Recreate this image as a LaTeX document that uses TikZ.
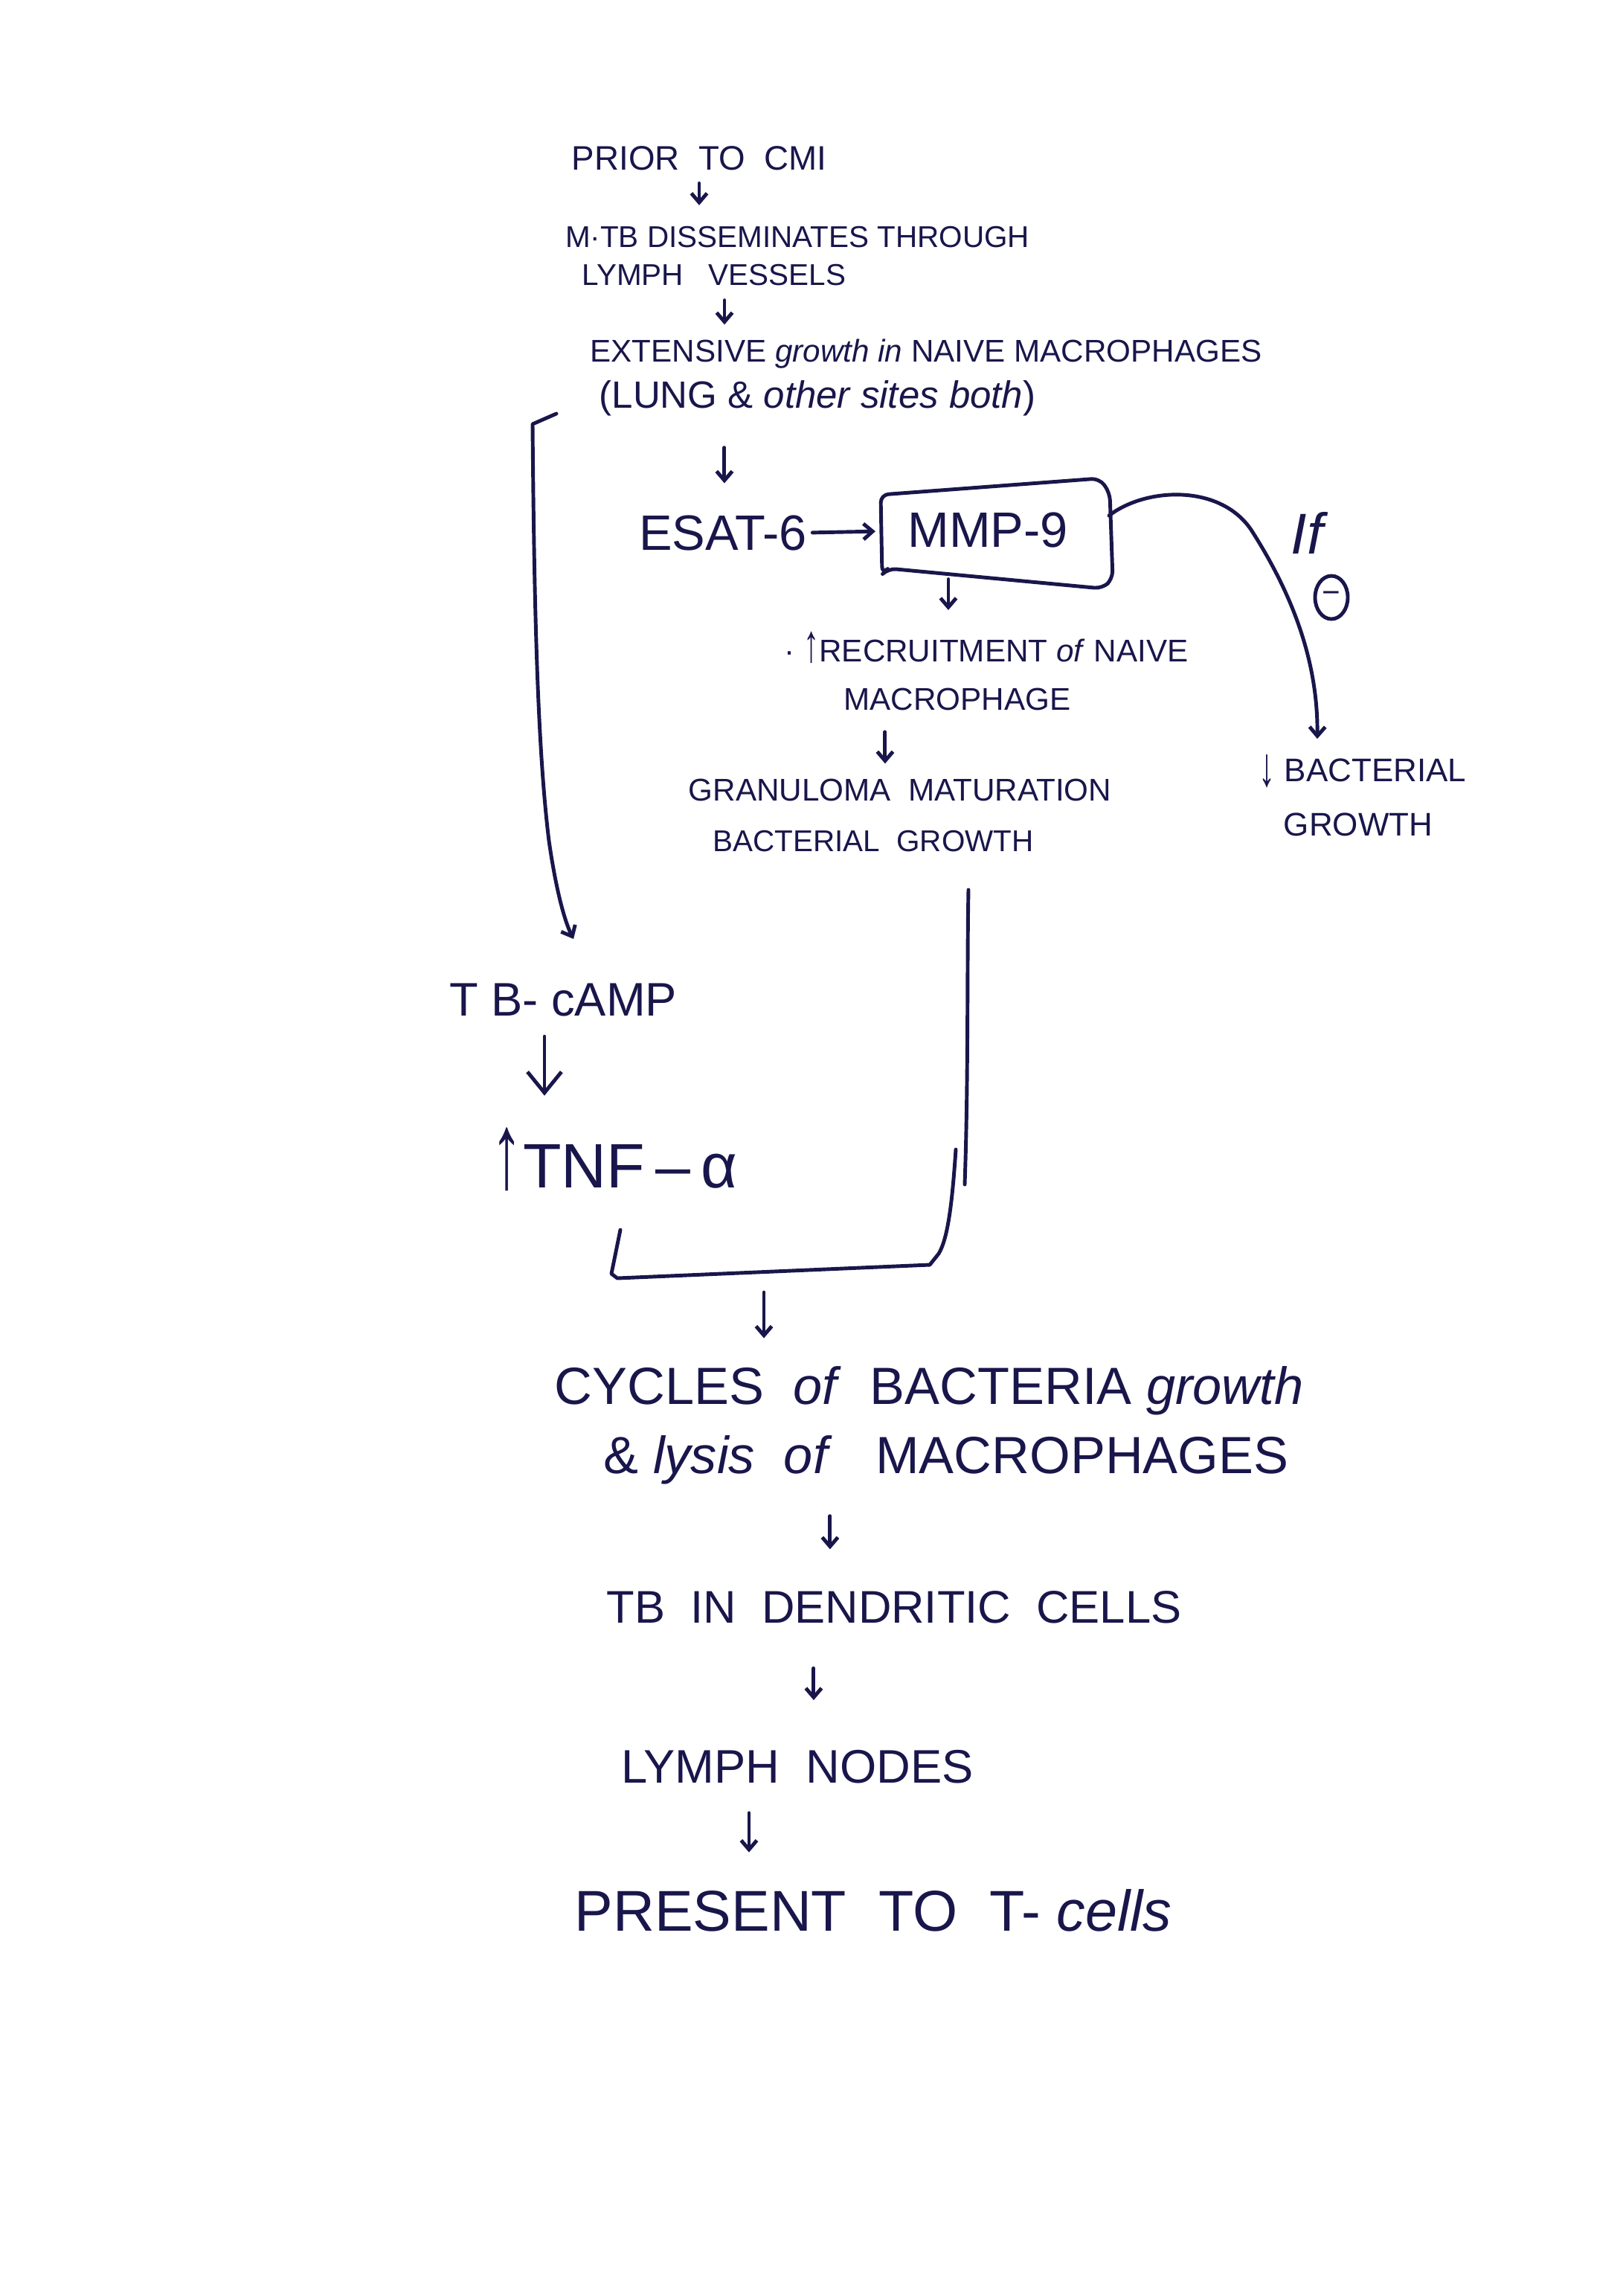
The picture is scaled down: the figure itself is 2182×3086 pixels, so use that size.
\documentclass[tikz,border=0pt]{standalone}
\usepackage{fontspec}
\setmainfont{Liberation Sans}
\usetikzlibrary{arrows.meta,calc,shapes.geometric}
\definecolor{ink}{RGB}{25,22,75}
\newcommand{\tallup}{\scalebox{1}[1.7]{↑}}
\newcommand{\talldown}{\raisebox{-0.15em}{\scalebox{1}[1.7]{↓}}}
\begin{document}
\begin{tikzpicture}[x=0.01cm,y=-0.01cm,
  inkline/.style={draw=ink, line width=1.4pt, line cap=round, line join=round},
  arr/.style={inkline, -{Straight Barb[length=3.5pt,width=6pt]}},
  lbl/.style={text=ink, inner sep=0pt, anchor=center},
  fs/.style={font=\fontsize{#1}{#1}\selectfont}]
\fill[white] (0,0) rectangle (2182,3086);
\useasboundingbox (0,0) rectangle (2182,3086);

% text nodes
\node[lbl,fs=13] (prior) at (940,213) {PRIOR\ \ TO\ \ CMI};
\node[lbl,fs=11.5] (mtb) at (1072,319) {M·TB DISSEMINATES THROUGH};
\node[lbl,fs=11.5] (lymph) at (960,370) {LYMPH\ \ \ VESSELS};
\node[lbl,fs=12] (ext) at (1245,476) {EXTENSIVE \textit{growth in} NAIVE MACROPHAGES};
\node[lbl,fs=14.5] (lung) at (1099,535) {(LUNG \& \textit{other sites both})};
\node[lbl,fs=19] (esat) at (972,716) {ESAT-6};
\node[lbl,fs=19] (mmp) at (1328,712) {MMP-9};
\node[lbl,fs=12] (recruit) at (1326,870) {· \tallup RECRUITMENT \textit{of} NAIVE};
\node[lbl,fs=12] (macro) at (1287,940) {MACROPHAGE};
\node[lbl,fs=12] (gran) at (1210,1062) {GRANULOMA\ \ MATURATION};
\node[lbl,fs=11.5] (bact) at (1174,1131) {BACTERIAL\ \ GROWTH};
\node[lbl,font=\fontsize{22}{22}\selectfont\itshape] (if) at (1757,716) {If};
\node[draw=ink, line width=1.4pt, ellipse, minimum width=0.44cm, minimum height=0.58cm, inner sep=0pt, text=ink] (neg) at (1790,803) {\fontsize{12}{12}\selectfont −};
\node[lbl,fs=12.5] (dbact) at (1832,1037) {\talldown\ BACTERIAL};
\node[lbl,fs=12.5] (dgrowth) at (1826,1108) {GROWTH};
\node[lbl,fs=18] (tbcamp) at (757,1344) {T B- cAMP};
\node[lbl,fs=24] (tnf) at (826,1558) {\tallup TNF\,–\,α};
\node[lbl,fs=20] (cycles) at (1249,1869) {CYCLES\ \ \textit{of}\ \ BACTERIA \textit{growth}};
\node[lbl,fs=20] (lysis) at (1272,1962) {\& \textit{lysis}\ \ \textit{of}\ \ \ MACROPHAGES};
\node[lbl,fs=17.5] (tbdc) at (1202,2160) {TB\ \ IN\ \ DENDRITIC\ \ CELLS};
\node[lbl,fs=18] (lnodes) at (1072,2375) {LYMPH\ \ NODES};
\node[lbl,fs=22] (present) at (1174,2568) {PRESENT\ \ TO\ \ T- \textit{cells}};

% MMP-9 box
\draw[inkline, rounded corners=3pt] (1185,720) -- (1184,665) -- (1478,643) -- (1492,662) -- (1496,778) -- (1482,791) -- (1194,764) -- (1186,772) -- cycle;
\coordinate (boxL) at (1184,714);
\coordinate (boxR) at (1491,693);

% short arrows
\draw[arr, shorten <=4.7pt, shorten >=8pt] (prior.south) -- (prior.south |- mtb.north);
\draw[arr, shorten <=5.3pt, shorten >=5.5pt] ([xshift=0.14cm]lymph.south) -- ([xshift=0.14cm]lymph.south |- ext.north);
\draw[arr, shorten <=12pt, shorten >=12pt] ([xshift=-1.25cm]lung.south) -- ([xshift=-1.25cm]lung.south |- esat.north);
\draw[arr, shorten <=2pt, shorten >=2pt] (esat.east) -- (boxL);
\draw[arr, shorten <=12pt, shorten >=8pt] ([xshift=-0.53cm]mmp.south) -- ([xshift=-0.53cm]mmp.south |- recruit.north);
\draw[arr, shorten <=8pt, shorten >=5.7pt] ([xshift=-0.97cm]macro.south) -- ([xshift=-0.97cm]macro.south |- gran.north);
\draw[inkline, -{Straight Barb[length=8pt,width=13pt]}, shorten <=7.5pt, shorten >=12pt] ([xshift=-0.25cm]tbcamp.south) -- ([xshift=-0.25cm]tbcamp.south |- tnf.north);
\draw[arr, shorten <=12pt, shorten >=15.7pt] ([xshift=-1.56cm]lysis.south) -- ([xshift=-1.56cm]lysis.south |- tbdc.north);
\draw[arr, shorten <=17pt, shorten >=19pt] ([xshift=-1.08cm]tbdc.south) -- ([xshift=-1.08cm]tbdc.south |- lnodes.north);
\draw[arr, shorten <=11pt, shorten >=14pt] ([xshift=-0.65cm]lnodes.south) -- ([xshift=-0.65cm]lnodes.south |- present.north);

% curve from MMP-9 to decreased bacterial growth
\coordinate (cend) at (1771,993);
\draw[arr] (boxR) .. controls (1540,655) and (1640,650) .. (1682,712) .. controls (1745,810) and (1772,900) .. (cend);

% left bracket from lung line to TB-cAMP
\coordinate (lbstart) at (748,556);
\coordinate (lbend) at (771,1262);
\draw[arr] (lbstart) -- (716,570) .. controls (718,800) and (722,1000) .. (738,1130) .. controls (748,1200) and (760,1240) .. (lbend);

% converging U from bacterial growth and TNF-alpha
\coordinate (ru) at (1302,1196);
\coordinate (ul) at (834,1653);
\coordinate (merge) at (1027,1737);
\draw[inkline] (ru) .. controls (1300,1300) and (1302,1450) .. (1297,1592);
\draw[inkline] (1285,1545) .. controls (1280,1620) and (1274,1665) .. (1262,1685) -- (1250,1700) -- (830,1718) -- (822,1712) -- (ul);
\draw[arr, shorten >=10.5pt] (merge) -- (merge |- cycles.north);
\end{tikzpicture}
\end{document}
